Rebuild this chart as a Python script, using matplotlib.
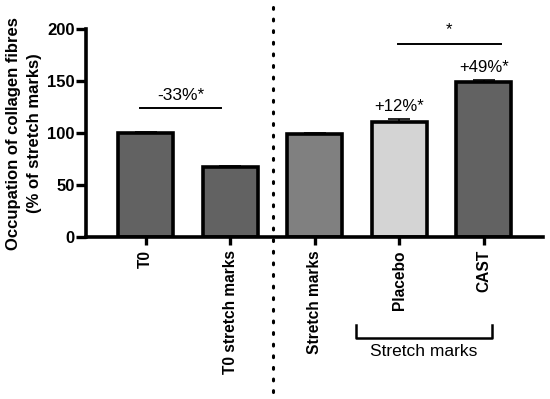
import numpy as np
import matplotlib.pyplot as plt

categories = ["T0", "T0 stretch marks", "Stretch marks", "Placebo", "CAST"]
values = [100, 67, 99.5, 111, 149]
errors = [1.5, 1.0, 0.8, 2.5, 2.0]
bar_colors = ["#626262", "#626262", "#808080", "#d4d4d4", "#626262"]
pct_labels = ["", "", "", "+12%*", "+49%*"]

plt.rcParams["font.family"] = ["Liberation Sans", "DejaVu Sans"]

fig = plt.figure(figsize=(5.5, 3.99), dpi=100)
ax = fig.add_axes([0.156, 0.406, 0.831, 0.521])

x = np.arange(len(categories))
ax.bar(x, values, width=0.65, color=bar_colors, edgecolor="black", linewidth=2.6, zorder=2)
ax.errorbar(x, values, yerr=[np.zeros(len(errors)), errors], fmt="none",
            ecolor="black", elinewidth=1.2, capsize=8, capthick=1.2, zorder=1)

ax.set_xlim(-0.71, 4.70)
ax.set_ylim(0, 200)
ax.set_yticks([0, 50, 100, 150, 200])
ax.set_xticks(x)
ax.set_xticklabels(categories, rotation=90, fontweight="bold", fontsize=11.2)
for lab in ax.get_yticklabels():
    lab.set_fontweight("bold")
ax.tick_params(axis="y", labelsize=12, width=2.4, length=7, pad=1)
ax.tick_params(axis="x", width=2.4, length=6)
ax.spines["top"].set_visible(False)
ax.spines["right"].set_visible(False)
ax.spines["left"].set_linewidth(2.6)
ax.spines["bottom"].set_linewidth(2.6)
ax.set_ylabel("Occupation of collagen fibres\n(% of stretch marks)",
              fontweight="bold", fontsize=12, labelpad=4, linespacing=1.45)

# percentage annotations above bars
for xi, v, e, lab in zip(x, values, errors, pct_labels):
    if lab:
        ax.text(xi, v + e + 5, lab, ha="center", va="bottom", fontsize=12)

# comparison lines
ax.plot([-0.07, 0.89], [124, 124], color="black", lw=1.4, clip_on=False)
ax.text(0.41, 129, "-33%*", ha="center", va="bottom", fontsize=12.5)
ax.plot([2.98, 4.2], [186, 186], color="black", lw=1.4, clip_on=False)
ax.text(3.59, 192, "*", ha="center", va="bottom", fontsize=12)

# dotted separator
ax.plot([1.5, 1.5], [-149, 228], color="black", lw=2.2, ls=(0, (0.6, 3.2)),
        clip_on=False, dash_capstyle="round")

# bracket below Placebo / CAST
bx0, bx1 = 2.49, 4.10
ax.plot([bx0, bx0, bx1, bx1], [-85, -97, -97, -85], color="black", lw=1.8,
        clip_on=False)
ax.text((bx0 + bx1) / 2, -103, "Stretch marks", ha="center", va="top", fontsize=12.5)

fig.savefig("out.png", dpi=100)
